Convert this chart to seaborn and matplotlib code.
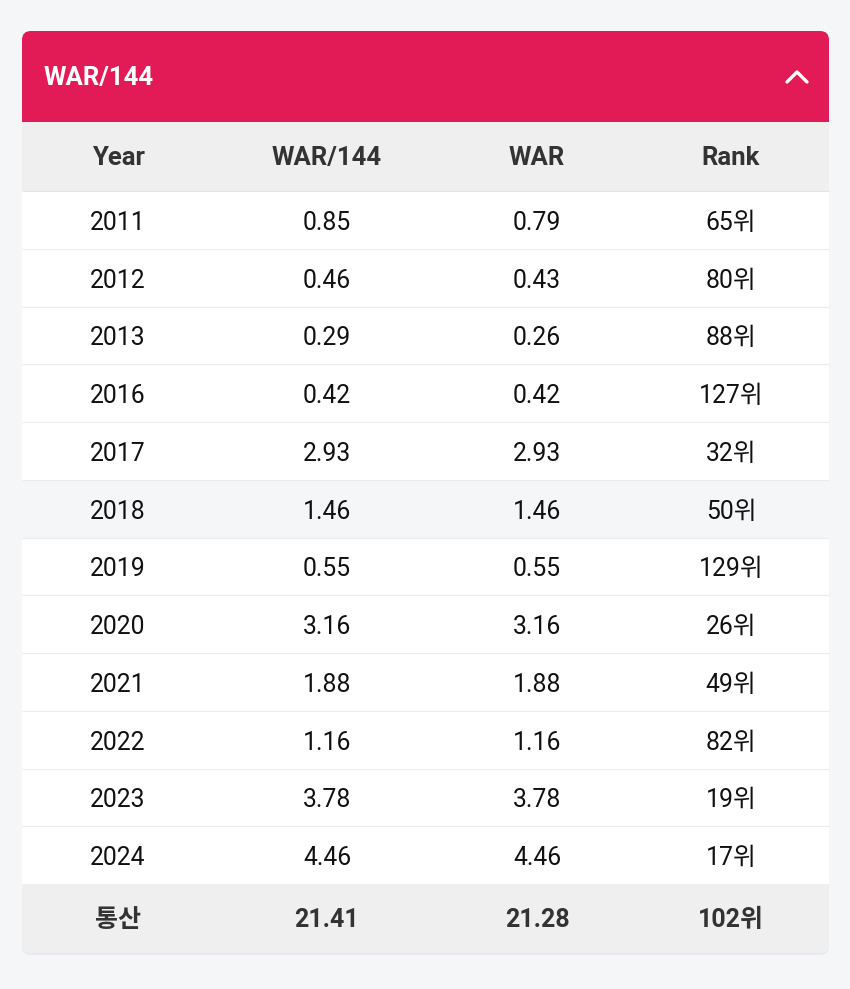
import numpy as np
import seaborn as sns
import matplotlib.pyplot as plt
from matplotlib.colors import ListedColormap
from matplotlib.patches import FancyBboxPatch, Rectangle

# table data
title = 'WAR/144'
columns = ['Year', 'WAR/144', 'WAR', 'Rank']
years = ['2011', '2012', '2013', '2016', '2017', '2018',
         '2019', '2020', '2021', '2022', '2023', '2024']
war144 = [0.85, 0.46, 0.29, 0.42, 2.93, 1.46, 0.55, 3.16, 1.88, 1.16, 3.78, 4.46]
war = [0.79, 0.43, 0.26, 0.42, 2.93, 1.46, 0.55, 3.16, 1.88, 1.16, 3.78, 4.46]
ranks = [65, 80, 88, 127, 32, 50, 129, 26, 49, 82, 19, 17]
total_label = '통산'
total_war144 = 21.41
total_war = 21.28
total_rank = 102
highlight_year = '2018'

W, H = 850, 989
card_l, card_r = 22, 829
card_t, card_b = 31, 953
head_t, body_t, body_b = 122, 191, 884
col_x = [118, 327, 537, 731]

bg_color = '#F5F6F8'
pink = '#E21B57'
gray = '#EFEFEF'

sns.set_theme(style='white')
plt.rcParams['font.family'] = ['Roboto', 'Noto Sans CJK KR']

fig = plt.figure(figsize=(W / 100, H / 100), dpi=100)
fig.patch.set_facecolor(bg_color)


def pixelAxes(z):

	"""
	axes spanning the whole figure in pixel coordinates
	"""

	ax = fig.add_axes([0, 0, 1, 1], zorder=z)
	ax.set_xlim(0, W)
	ax.set_ylim(H, 0)
	ax.axis('off')
	ax.patch.set_alpha(0)
	return ax


# card background, shadow and title bar
base = pixelAxes(0)
base.add_patch(FancyBboxPatch((card_l, card_t + 2), card_r - card_l, card_b - card_t,
                              boxstyle='round,pad=0,rounding_size=9',
                              fc='#E3E5E9', ec='none', alpha=0.7))
base.add_patch(FancyBboxPatch((card_l, card_t), card_r - card_l, card_b - card_t,
                              boxstyle='round,pad=0,rounding_size=9',
                              fc=gray, ec='none'))
base.add_patch(FancyBboxPatch((card_l, card_t), card_r - card_l, head_t - card_t,
                              boxstyle='round,pad=0,rounding_size=9',
                              fc=pink, ec='none'))
base.add_patch(Rectangle((card_l, head_t - 20), card_r - card_l, 20, fc=pink, ec='none'))

# body rows as a heatmap (white rows, hovered row slightly grey)
shade = np.array([[1.0 if y == highlight_year else 0.0] * len(columns) for y in years])
hax = fig.add_axes([card_l / W, 1 - body_b / H, (card_r - card_l) / W, (body_b - body_t) / H],
                   zorder=1)
sns.heatmap(shade, ax=hax, cmap=ListedColormap(['#FFFFFF', bg_color]), vmin=0, vmax=1,
            cbar=False, xticklabels=False, yticklabels=False)
hax.axis('off')

# texts and rules on top
top = pixelAxes(2)
row_h = (body_b - body_t) / len(years)
top.hlines([body_t + row_h * k for k in range(1, len(years))], card_l, card_r,
           color='#ECECEC', lw=0.8)
top.hlines(body_t, card_l, card_r, color='#E4E4E4', lw=0.8)

top.text(44, 78, title, color='white', fontsize=18.5, fontweight='bold',
         ha='left', va='center')
top.plot([787, 797, 807], [82, 72, 82], color='white', lw=2.4,
         solid_capstyle='round', solid_joinstyle='round')

for x, c in zip(col_x, columns):
	top.text(x, 158, c, color='#333333', fontsize=18.5, fontweight='bold',
	         ha='center', va='center')

for i, y in enumerate(years):
	yc = body_t + row_h * (i + 0.5) + 3
	row = [y, '{:.2f}'.format(war144[i]), '{:.2f}'.format(war[i]), '{}위'.format(ranks[i])]
	for x, s in zip(col_x, row):
		top.text(x, yc, s, color='#111111', fontsize=17.8, ha='center', va='center')

total = [total_label, '{:.2f}'.format(total_war144), '{:.2f}'.format(total_war),
         '{}위'.format(total_rank)]
for x, s in zip(col_x, total):
	top.text(x, 920, s, color='#333333', fontsize=18, fontweight='bold',
	         ha='center', va='center')

fig.savefig('out.png', dpi=100, facecolor=fig.get_facecolor())
